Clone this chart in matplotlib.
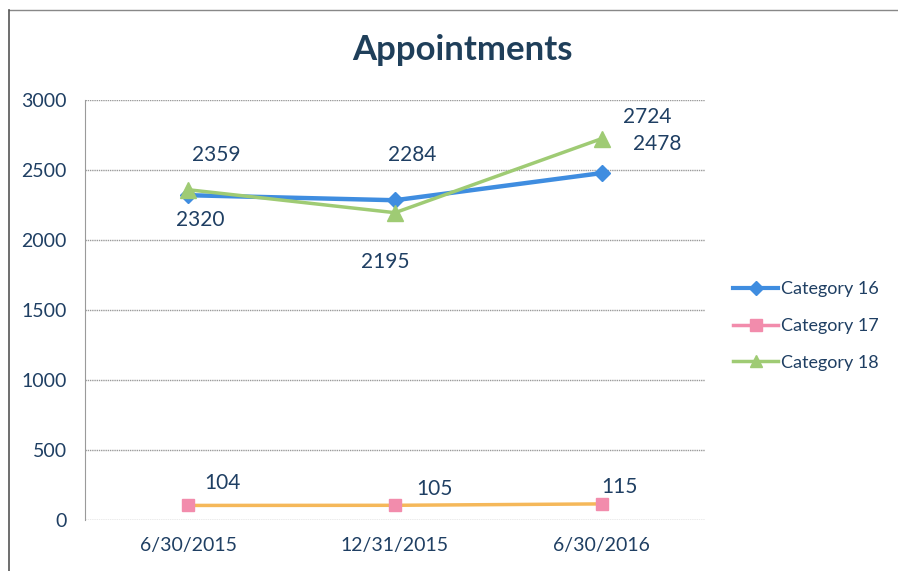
import matplotlib
matplotlib.use("Agg")
import matplotlib.pyplot as plt
from matplotlib.lines import Line2D

plt.rcParams['font.family'] = ['Lato', 'DejaVu Sans']

categories = ["6/30/2015", "12/31/2015", "6/30/2016"]
cat16 = [2320, 2284, 2478]
cat17 = [104, 105, 115]
cat18 = [2359, 2195, 2724]
series_names = ["Category 16", "Category 17", "Category 18"]
yticks = [0, 500, 1000, 1500, 2000, 2500, 3000]

# label offsets in pixels (dx, dy) relative to point
off16 = [(12, -25), (17, 45), (56, 29)]
off17 = [(34, 22), (39, 16), (18, 17)]
off18 = [(28, 35), (-10, -49), (46, 22)]

blue = '#3f8de0'
green = '#9fcb74'
pink = '#f28cac'
orange = '#f5b85a'
txt = '#1f3f63'

fig = plt.figure(figsize=(8.98, 5.71), dpi=100)
ax = fig.add_axes([85/898, 51/571, 620/898, 420/571])

x = list(range(len(categories)))
ax.plot(x, cat16, color=blue, lw=3.2, marker='D', ms=8, zorder=3)
ax.plot(x, cat18, color=green, lw=2.5, marker='^', ms=11, zorder=4)
ax.plot(x, cat17, color=orange, lw=2.5, marker='s', ms=9,
        markerfacecolor=pink, markeredgecolor=pink, zorder=3)

k = 0.72
for vals, offs in ((cat16, off16), (cat17, off17), (cat18, off18)):
    for xi, v, (dx, dy) in zip(x, vals, offs):
        ax.annotate(str(v), (xi, v), xytext=(dx*k, dy*k), textcoords='offset points',
                    ha='center', va='center', fontsize=15, color=txt)

ax.set_xlim(-0.5, 2.5)
ax.set_ylim(0, 3000)
ax.set_yticks(yticks)
ax.set_xticks(x)
ax.set_xticklabels(categories)
ax.tick_params(axis='both', length=0, labelsize=14, colors=txt)
ax.tick_params(axis='y', pad=13)
ax.tick_params(axis='x', pad=12)
ax.grid(axis='y', color='#9a9a9a', lw=1, ls=(0, (1, 0.6)))
ax.set_axisbelow(True)
for s in ['top', 'right', 'bottom']:
    ax.spines[s].set_visible(False)
ax.spines['left'].set_color('#9a9a9a')

fig.text(462/898, 1 - 50/571, "Appointments", ha='center', va='center',
         fontsize=25, fontweight='bold', color='#1f3f5a')

handles = [Line2D([], [], color=blue, lw=3, marker='D', ms=7),
           Line2D([], [], color=pink, lw=2.5, marker='s', ms=8),
           Line2D([], [], color=green, lw=2.5, marker='^', ms=8)]
fig.legend(handles, series_names, loc='center left',
           bbox_to_anchor=(733/898, 1 - 326/571), frameon=False, borderpad=0,
           borderaxespad=0, fontsize=13, labelcolor=txt, handlelength=2.5,
           handletextpad=0.15, labelspacing=1.15)

# chart frame (top and left edges)
fig.add_artist(Line2D([9/898, 1], [1 - 10/571, 1 - 10/571], color='#888888', lw=1,
                      transform=fig.transFigure))
fig.add_artist(Line2D([9/898, 9/898], [0, 1 - 10/571], color='#555555', lw=1.2,
                      transform=fig.transFigure))

fig.savefig("out.png", dpi=100)
